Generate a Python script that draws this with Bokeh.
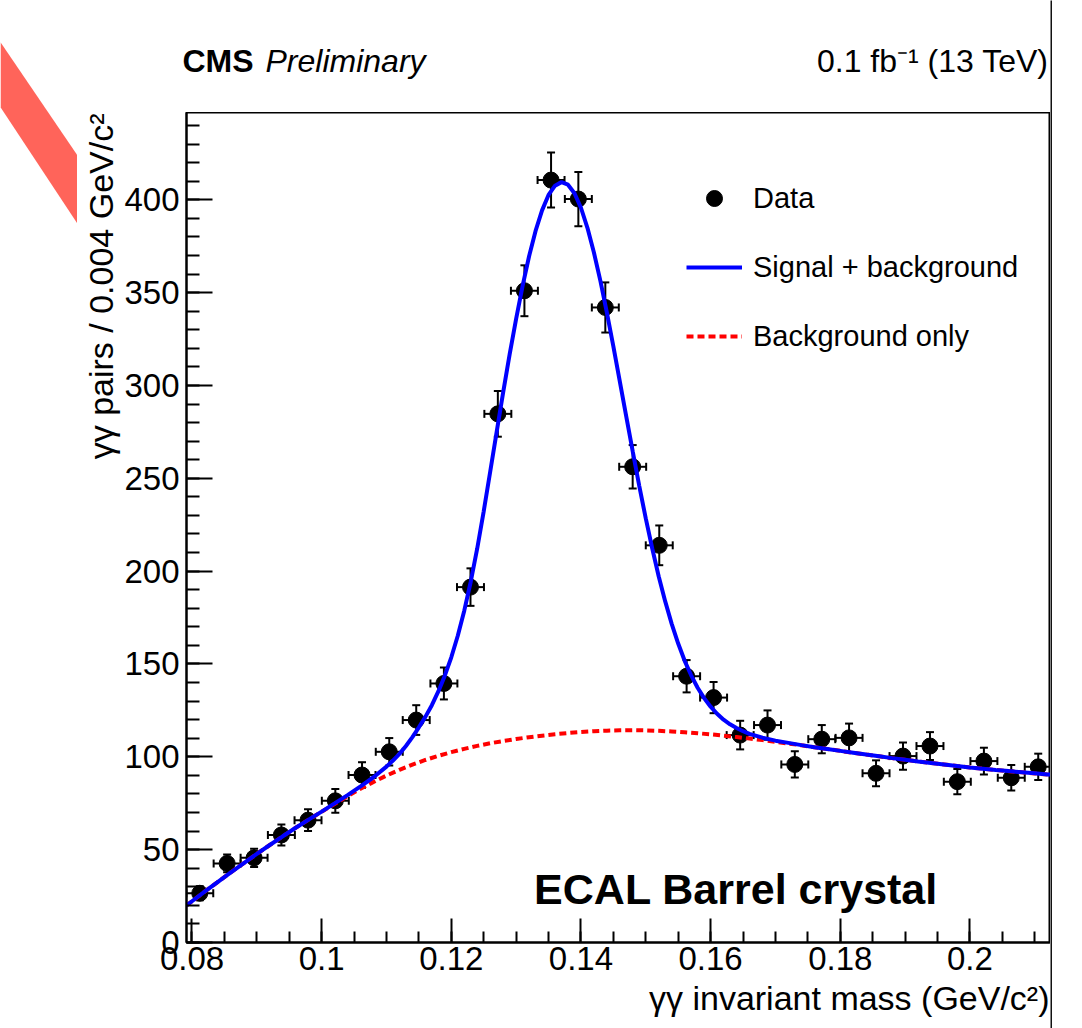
from bokeh.embed import file_html
from bokeh.layouts import column, row
from bokeh.models import (ColumnDataSource, CustomJSTickFormatter, Label, Legend,
                          LegendItem, Range1d, SingleIntervalTicker, TeeHead, Title, Whisker)
from bokeh.plotting import figure
from bokeh.resources import INLINE

# --- measured diphoton spectrum (bin centres, counts, uncertainties) ---
mass_centers = [0.08120, 0.08542, 0.08958, 0.09379, 0.09790, 0.10211, 0.10623, 0.11043,
                0.11459, 0.11886, 0.12296, 0.12718, 0.13128, 0.13539, 0.13960, 0.14376,
                0.14798, 0.15208, 0.15630, 0.16046, 0.16456, 0.16878, 0.17299, 0.17715,
                0.18136, 0.18552, 0.18968, 0.19384, 0.19806, 0.20216, 0.20638, 0.21054]
pairs = [26.5, 42.6, 45.6, 57.9, 65.9, 76.3, 90.2, 102.7, 119.8, 139.5, 191.4, 284.7,
         351.0, 410.6, 400.4, 342.0, 256.2, 213.9, 143.4, 131.9, 111.7, 117.1, 95.9, 109.5,
         110.2, 91.1, 100.4, 105.8, 86.6, 97.7, 88.7, 94.6]
pairs_err = [3.8, 4.8, 4.9, 5.6, 5.9, 6.4, 6.9, 7.4, 8.0, 8.6, 10.1, 12.3, 13.7, 14.8, 14.6,
             13.5, 11.7, 10.7, 8.7, 8.4, 7.7, 7.9, 7.1, 7.6, 7.7, 7.0, 7.3, 7.5, 6.8, 7.2,
             6.9, 7.1]
bin_half_width = 0.00208

# --- fitted signal + background curve ---
fit_mass = [0.0791, 0.080, 0.082, 0.084, 0.086, 0.088, 0.090, 0.092, 0.094, 0.096, 0.098,
            0.100, 0.102, 0.104, 0.106, 0.108, 0.110,
            0.111, 0.112, 0.113, 0.114, 0.115, 0.116, 0.117, 0.118, 0.119, 0.120,
            0.121, 0.122, 0.123, 0.124, 0.125, 0.126, 0.127, 0.128, 0.129, 0.130,
            0.131, 0.132, 0.133, 0.134, 0.135, 0.136, 0.137, 0.138, 0.139, 0.140,
            0.141, 0.142, 0.143, 0.144, 0.145, 0.146, 0.147, 0.148, 0.149, 0.150,
            0.151, 0.152, 0.153, 0.154, 0.155, 0.156, 0.157, 0.158, 0.159, 0.160,
            0.161, 0.162, 0.163, 0.164, 0.165, 0.166,
            0.168, 0.170, 0.172, 0.174, 0.176, 0.178, 0.180, 0.182, 0.184, 0.186,
            0.188, 0.190, 0.192, 0.194, 0.196, 0.198, 0.200, 0.202, 0.204, 0.206,
            0.208, 0.210, 0.212, 0.2125]
fit_total = [19.8, 22.2, 27.5, 32.7, 37.8, 42.8, 47.7, 52.5, 57.2, 61.8, 66.2,
             70.5, 74.9, 79.4, 84.1, 89.0, 94.7,
             98.0, 101.6, 105.8, 110.6, 115.9, 121.5, 127.8, 135.2, 143.7, 153.6,
             165.2, 178.7, 194.3, 212.2, 232.2, 253.5, 275.0, 296.3, 316.7, 335.9,
             353.6, 369.6, 383.2, 394.3, 402.6, 407.6, 409.5, 408.1, 403.5, 395.7,
             384.9, 371.6, 356.3, 339.2, 321.0, 302.1, 283.1, 264.2, 245.8, 228.4,
             212.2, 197.1, 183.7, 171.6, 161.0, 151.7, 143.9, 137.2, 131.6, 127.0,
             123.2, 120.0, 117.5, 115.5, 113.8, 112.4,
             110.3, 108.7, 107.5, 106.3, 105.2, 104.2, 103.2, 102.2, 101.2, 100.3,
             99.3, 98.4, 97.5, 96.7, 95.9, 95.1, 94.3, 93.6, 92.9, 92.3,
             91.7, 91.1, 90.5, 90.4]

# --- background-only component of the fit ---
bkg_mass = [0.0791, 0.080, 0.082, 0.084, 0.086, 0.088, 0.090, 0.092, 0.094, 0.096, 0.098,
            0.100, 0.102, 0.104, 0.106, 0.108, 0.110, 0.112, 0.114, 0.116, 0.118,
            0.120, 0.122, 0.124, 0.126, 0.128, 0.130, 0.132, 0.134, 0.136, 0.138,
            0.140, 0.142, 0.144, 0.146, 0.148, 0.150, 0.152, 0.154, 0.156, 0.158,
            0.160, 0.162, 0.164, 0.166, 0.168, 0.170, 0.172, 0.174, 0.176, 0.178,
            0.180, 0.182, 0.184, 0.186, 0.188, 0.190, 0.192, 0.194, 0.196, 0.198,
            0.200, 0.202, 0.204, 0.206, 0.208, 0.210, 0.212, 0.2125]
bkg_only = [19.8, 22.2, 27.5, 32.7, 37.8, 42.8, 47.7, 52.5, 57.2, 61.8, 66.2,
            70.4, 74.6, 78.8, 82.8, 86.5, 89.9, 93.0, 95.8, 98.3, 100.5,
            102.5, 104.3, 105.9, 107.3, 108.5, 109.6, 110.55, 111.4, 112.15, 112.8,
            113.35, 113.8, 114.1, 114.3, 114.35, 114.25, 114.0, 113.65, 113.2, 112.7,
            112.1, 111.4, 110.65, 109.85, 109.0, 108.1, 107.15, 106.2, 105.2, 104.2,
            103.2, 102.2, 101.2, 100.25, 99.3, 98.4, 97.5, 96.65, 95.85, 95.05,
            94.3, 93.6, 92.9, 92.25, 91.65, 91.05, 90.5, 90.4]

# --- decorative ribbon in the top-left corner (page pixels) ---
ribbon_x = [0, 77, 77, 0]
ribbon_y = [41.7, 155.0, 223.3, 106.7]

FONT = "Liberation Sans"
H = 1028
HEAD = 112


def bare(width, height, xr, yr, **kw):
    f = figure(width=width, height=height, x_range=xr, y_range=yr, title=None,
               output_backend="svg", toolbar_location=None, min_border=0,
               x_axis_location=None, y_axis_location=None, frame_align=False, **kw)
    f.grid.visible = False
    f.outline_line_color = None
    return f


# ribbon strip on the far left
strip = bare(77, H, Range1d(0, 77), Range1d(H, 0))
strip.patch(ribbon_x, ribbon_y, fill_color="#ff645a", line_color=None)

# header line above the frame (page pixel coordinates, text centres)
head = bare(973, HEAD, Range1d(77, 1050), Range1d(HEAD, 0))
for txt, x, align, style in (("CMS", 182, "left", "bold"),
                             ("Preliminary", 265, "left", "italic"),
                             ("0.1 fb\u207b\u00b9 (13 TeV)", 1048, "right", "normal")):
    head.add_layout(Label(x=x, y=60, text=txt, text_font=FONT, text_font_size="32px",
                          text_font_style=style, text_align=align,
                          text_baseline="middle", text_color="black"))

# main spectrum
p = figure(width=973, height=H - HEAD,
           x_range=Range1d(0.079153, 0.212433), y_range=Range1d(0, 447),
           output_backend="svg", toolbar_location=None, frame_align=False,
           min_border_left=108, min_border_right=0, min_border_top=0,
           min_border_bottom=86)
p.grid.visible = False
p.outline_line_color = "black"
p.outline_line_width = 2
p.background_fill_color = "white"
p.border_fill_color = "white"

fmt = CustomJSTickFormatter(code="return parseFloat(tick.toFixed(3)).toString();")
p.xaxis.ticker = SingleIntervalTicker(interval=0.02, num_minor_ticks=4)
p.yaxis.ticker = SingleIntervalTicker(interval=50, num_minor_ticks=5)
p.xaxis.formatter = fmt
p.yaxis.formatter = fmt
for ax in (p.xaxis, p.yaxis):
    ax.axis_line_width = 2
    ax.axis_line_color = "black"
    ax.major_tick_out = 0
    ax.minor_tick_out = 0
    ax.major_tick_line_width = 2
    ax.minor_tick_line_width = 2
    ax.major_tick_line_color = "black"
    ax.minor_tick_line_color = "black"
    ax.major_label_text_font = FONT
    ax.major_label_text_font_size = "33px"
    ax.major_label_text_color = "black"
p.xaxis.major_tick_in = 24
p.xaxis.minor_tick_in = 11
p.yaxis.major_tick_in = 26
p.yaxis.minor_tick_in = 13
p.xaxis.major_label_standoff = 4
p.yaxis.major_label_standoff = 7

p.add_layout(Title(text="\u03b3\u03b3 invariant mass (GeV/c\u00b2)", align="right",
                   offset=1, standoff=8, text_font=FONT, text_font_size="34px",
                   text_font_style="normal", text_color="black"), "below")
p.add_layout(Title(text="\u03b3\u03b3 pairs / 0.004 GeV/c\u00b2", align="right",
                   offset=1, standoff=4, text_font=FONT, text_font_size="34px",
                   text_font_style="normal", text_color="black"), "left")

src = ColumnDataSource(dict(
    x=mass_centers, y=pairs,
    lo=[v - e for v, e in zip(pairs, pairs_err)],
    hi=[v + e for v, e in zip(pairs, pairs_err)],
    xl=[m - bin_half_width for m in mass_centers],
    xr=[m + bin_half_width for m in mass_centers],
))

for dim, base, lo, hi in (("height", "x", "lo", "hi"), ("width", "y", "xl", "xr")):
    p.add_layout(Whisker(source=src, base=base, lower=lo, upper=hi, dimension=dim,
                         line_width=2, line_color="black",
                         lower_head=TeeHead(size=8, line_width=2, line_color="black"),
                         upper_head=TeeHead(size=8, line_width=2, line_color="black")))

r_data = p.scatter("x", "y", source=src, size=16, color="black")
r_bkg = p.line(bkg_mass, bkg_only, line_color="#ff0000", line_width=4, line_dash="7 4")
r_fit = p.line(fit_mass, fit_total, line_color="#0000ff", line_width=4)

legend = Legend(items=[LegendItem(label="Data", renderers=[r_data]),
                       LegendItem(label="Signal + background", renderers=[r_fit]),
                       LegendItem(label="Background only", renderers=[r_bkg])],
                location=(500, 586), padding=0, margin=0, spacing=29,
                glyph_width=56, glyph_height=40, label_height=40, label_standoff=11,
                label_text_font=FONT, label_text_font_size="29px",
                label_text_color="black",
                background_fill_alpha=0, border_line_alpha=0)
p.add_layout(legend)

p.add_layout(Label(x=0.132773, y=29.0, text="ECAL Barrel crystal", text_font=FONT,
                   text_font_size="43px", text_font_style="bold", text_align="left",
                   text_baseline="middle", text_color="black"))

# thin divider at the right edge
edge = bare(2, H, Range1d(0, 1), Range1d(0, 1),
            background_fill_color="#111111", border_fill_color="#111111")

layout = row(strip, column(head, p), edge)
open("out.html", "w").write(file_html(layout, INLINE))
